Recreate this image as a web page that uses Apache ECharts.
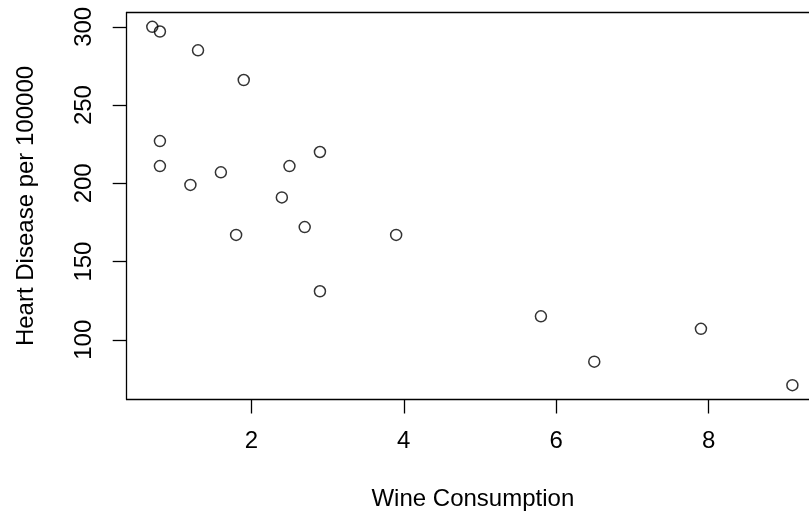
<!DOCTYPE html>
<html>
<head>
<meta charset="utf-8">
<script src="https://cdn.jsdelivr.net/npm/echarts@6/dist/echarts.min.js"></script>
<style>html,body{margin:0;padding:0;background:#fff;}#c{width:809px;height:518px;}</style>
</head>
<body>
<div id="c"></div>
<script>
const wine  = [2.5, 3.9, 2.9, 2.4, 2.9, 0.8, 9.1, 0.8, 0.7, 7.9, 1.8, 1.9, 0.8, 6.5, 1.6, 5.8, 1.3, 1.2, 2.7];
const heart = [211, 167, 131, 191, 220, 297, 71, 211, 300, 107, 167, 266, 227, 86, 207, 115, 285, 199, 172];
const xTicks = [2, 4, 6, 8];
const yTicks = [100, 150, 200, 250, 300];
const xTitle = 'Wine Consumption';
const yTitle = 'Heart Disease per 100000';

const xMin = 0.364, xMax = 9.318;
const yMin = 61.84, yMax = 309.16;
const points = wine.map((w, i) => [w, heart[i]]);
const font = 'Liberation Sans, Arial, sans-serif';
const line = {color: '#000', width: 1.3};

const chart = echarts.init(document.getElementById('c'), null, {renderer: 'canvas'});
chart.setOption({
  animation: false,
  backgroundColor: '#fff',
  grid: {left: 126.7, top: 12.5, right: 0, bottom: 118.5, show: false},
  xAxis: [{
    type: 'value', min: xMin, max: xMax, position: 'bottom',
    name: xTitle, nameLocation: 'middle', nameGap: 88,
    nameTextStyle: {fontFamily: font, fontSize: 24, color: '#000', padding: [0, 0, 0, 10]},
    axisLine: {show: true, onZero: false, lineStyle: line},
    splitLine: {show: false},
    axisTick: {show: true, length: 14, lineStyle: line, customValues: xTicks},
    axisLabel: {fontFamily: font, fontSize: 24, color: '#000', margin: 30, customValues: xTicks}
  }, {
    type: 'value', min: xMin, max: xMax, position: 'top',
    axisLine: {show: true, onZero: false, lineStyle: line},
    splitLine: {show: false}, axisTick: {show: false}, axisLabel: {show: false}
  }],
  yAxis: {
    type: 'value', min: yMin, max: yMax,
    name: yTitle, nameLocation: 'middle', nameGap: 88,
    nameTextStyle: {fontFamily: font, fontSize: 24, color: '#000'},
    axisLine: {show: true, onZero: false, lineStyle: line},
    splitLine: {show: false},
    axisTick: {show: true, length: 14, lineStyle: line, customValues: yTicks},
    axisLabel: {fontFamily: font, fontSize: 24, color: '#000', margin: 30, rotate: 90,
                align: 'center', verticalAlign: 'bottom', customValues: yTicks}
  },
  series: [{
    type: 'scatter',
    xAxisIndex: 0,
    data: points,
    symbol: 'circle',
    symbolSize: 11,
    itemStyle: {color: 'rgba(255,255,255,0)', borderColor: '#000', borderWidth: 1.5},
    emphasis: {disabled: true}
  }]
});
</script>
</body>
</html>
